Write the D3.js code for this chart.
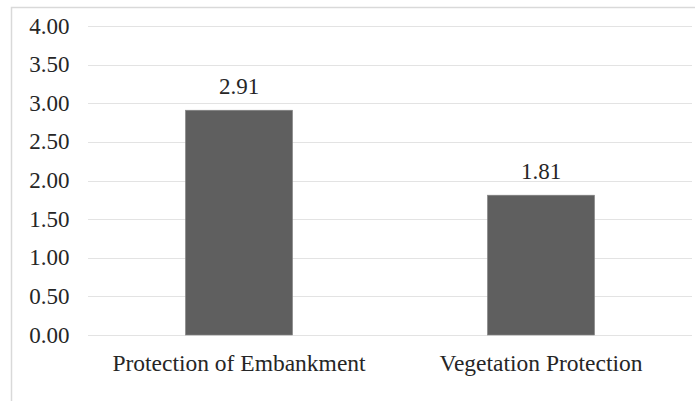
<!DOCTYPE html>
<html><head><meta charset="utf-8">
<script src="https://cdn.jsdelivr.net/npm/d3@7"></script>
<style>html,body{margin:0;padding:0;background:#fff;}</style>
</head><body>
<script>
const categories = ["Protection of Embankment", "Vegetation Protection"];
const values = [2.91, 1.81];
const yTicks = [0, 0.5, 1, 1.5, 2, 2.5, 3, 3.5, 4];

(function () {
const W = 695, H = 401;
const svg = d3.select("body").append("svg").attr("width", W).attr("height", H)
  .style("position", "absolute").style("left", "0px").style("top", "0px");
const font = "'Times New Roman'";

// chart border
svg.append("rect").attr("x", 11.5).attr("y", 7.5).attr("width", 700).attr("height", 400)
  .attr("fill", "none").attr("stroke", "#d9d9d9").attr("stroke-width", 1.5);

const pLeft = 88, pRight = 692, pTop = 26, pBottom = 335;
const x = d3.scaleBand().domain(categories).range([pLeft, pRight]).padding(0);
const y = d3.scaleLinear().domain([0, 4]).range([pBottom, pTop]);

// gridlines
svg.append("g").selectAll("line").data(yTicks).join("line")
  .attr("x1", pLeft).attr("x2", pRight)
  .attr("y1", d => Math.round(y(d)) + 0.5).attr("y2", d => Math.round(y(d)) + 0.5)
  .attr("stroke", "#e3e3e3").attr("stroke-width", 1.2);

const bw = x.bandwidth() * 0.355;
svg.append("g").selectAll("rect").data(values).join("rect")
  .attr("x", (d, i) => x(categories[i]) + x.bandwidth() / 2 - bw / 2)
  .attr("y", d => y(d)).attr("width", bw).attr("height", d => y(0) - y(d))
  .attr("fill", "#5f5f5f").attr("stroke", "#8a8a8a").attr("stroke-width", 0.6);

// y tick labels
svg.selectAll("text.tick").data(yTicks).join("text").attr("class", "tick")
  .attr("x", 69.5).attr("y", d => y(d) + 7.5)
  .attr("text-anchor", "end").style("font-family", font).style("font-size", "23px")
  .style("fill", "#262626").text(d => d.toFixed(2));

// value labels
svg.selectAll("text.val").data(values).join("text").attr("class", "val")
  .attr("x", (d, i) => x(categories[i]) + x.bandwidth() / 2)
  .attr("y", d => y(d) - 16.5)
  .attr("text-anchor", "middle").style("font-family", font).style("font-size", "23px")
  .style("fill", "#262626").text(d => d.toFixed(2));

// category labels
svg.selectAll("text.cat").data(categories).join("text").attr("class", "cat")
  .attr("x", d => x(d) + x.bandwidth() / 2).attr("y", 371)
  .attr("text-anchor", "middle").style("font-family", font).style("font-size", "23.5px")
  .style("fill", "#262626").text(d => d);
})();
</script>
</body></html>
